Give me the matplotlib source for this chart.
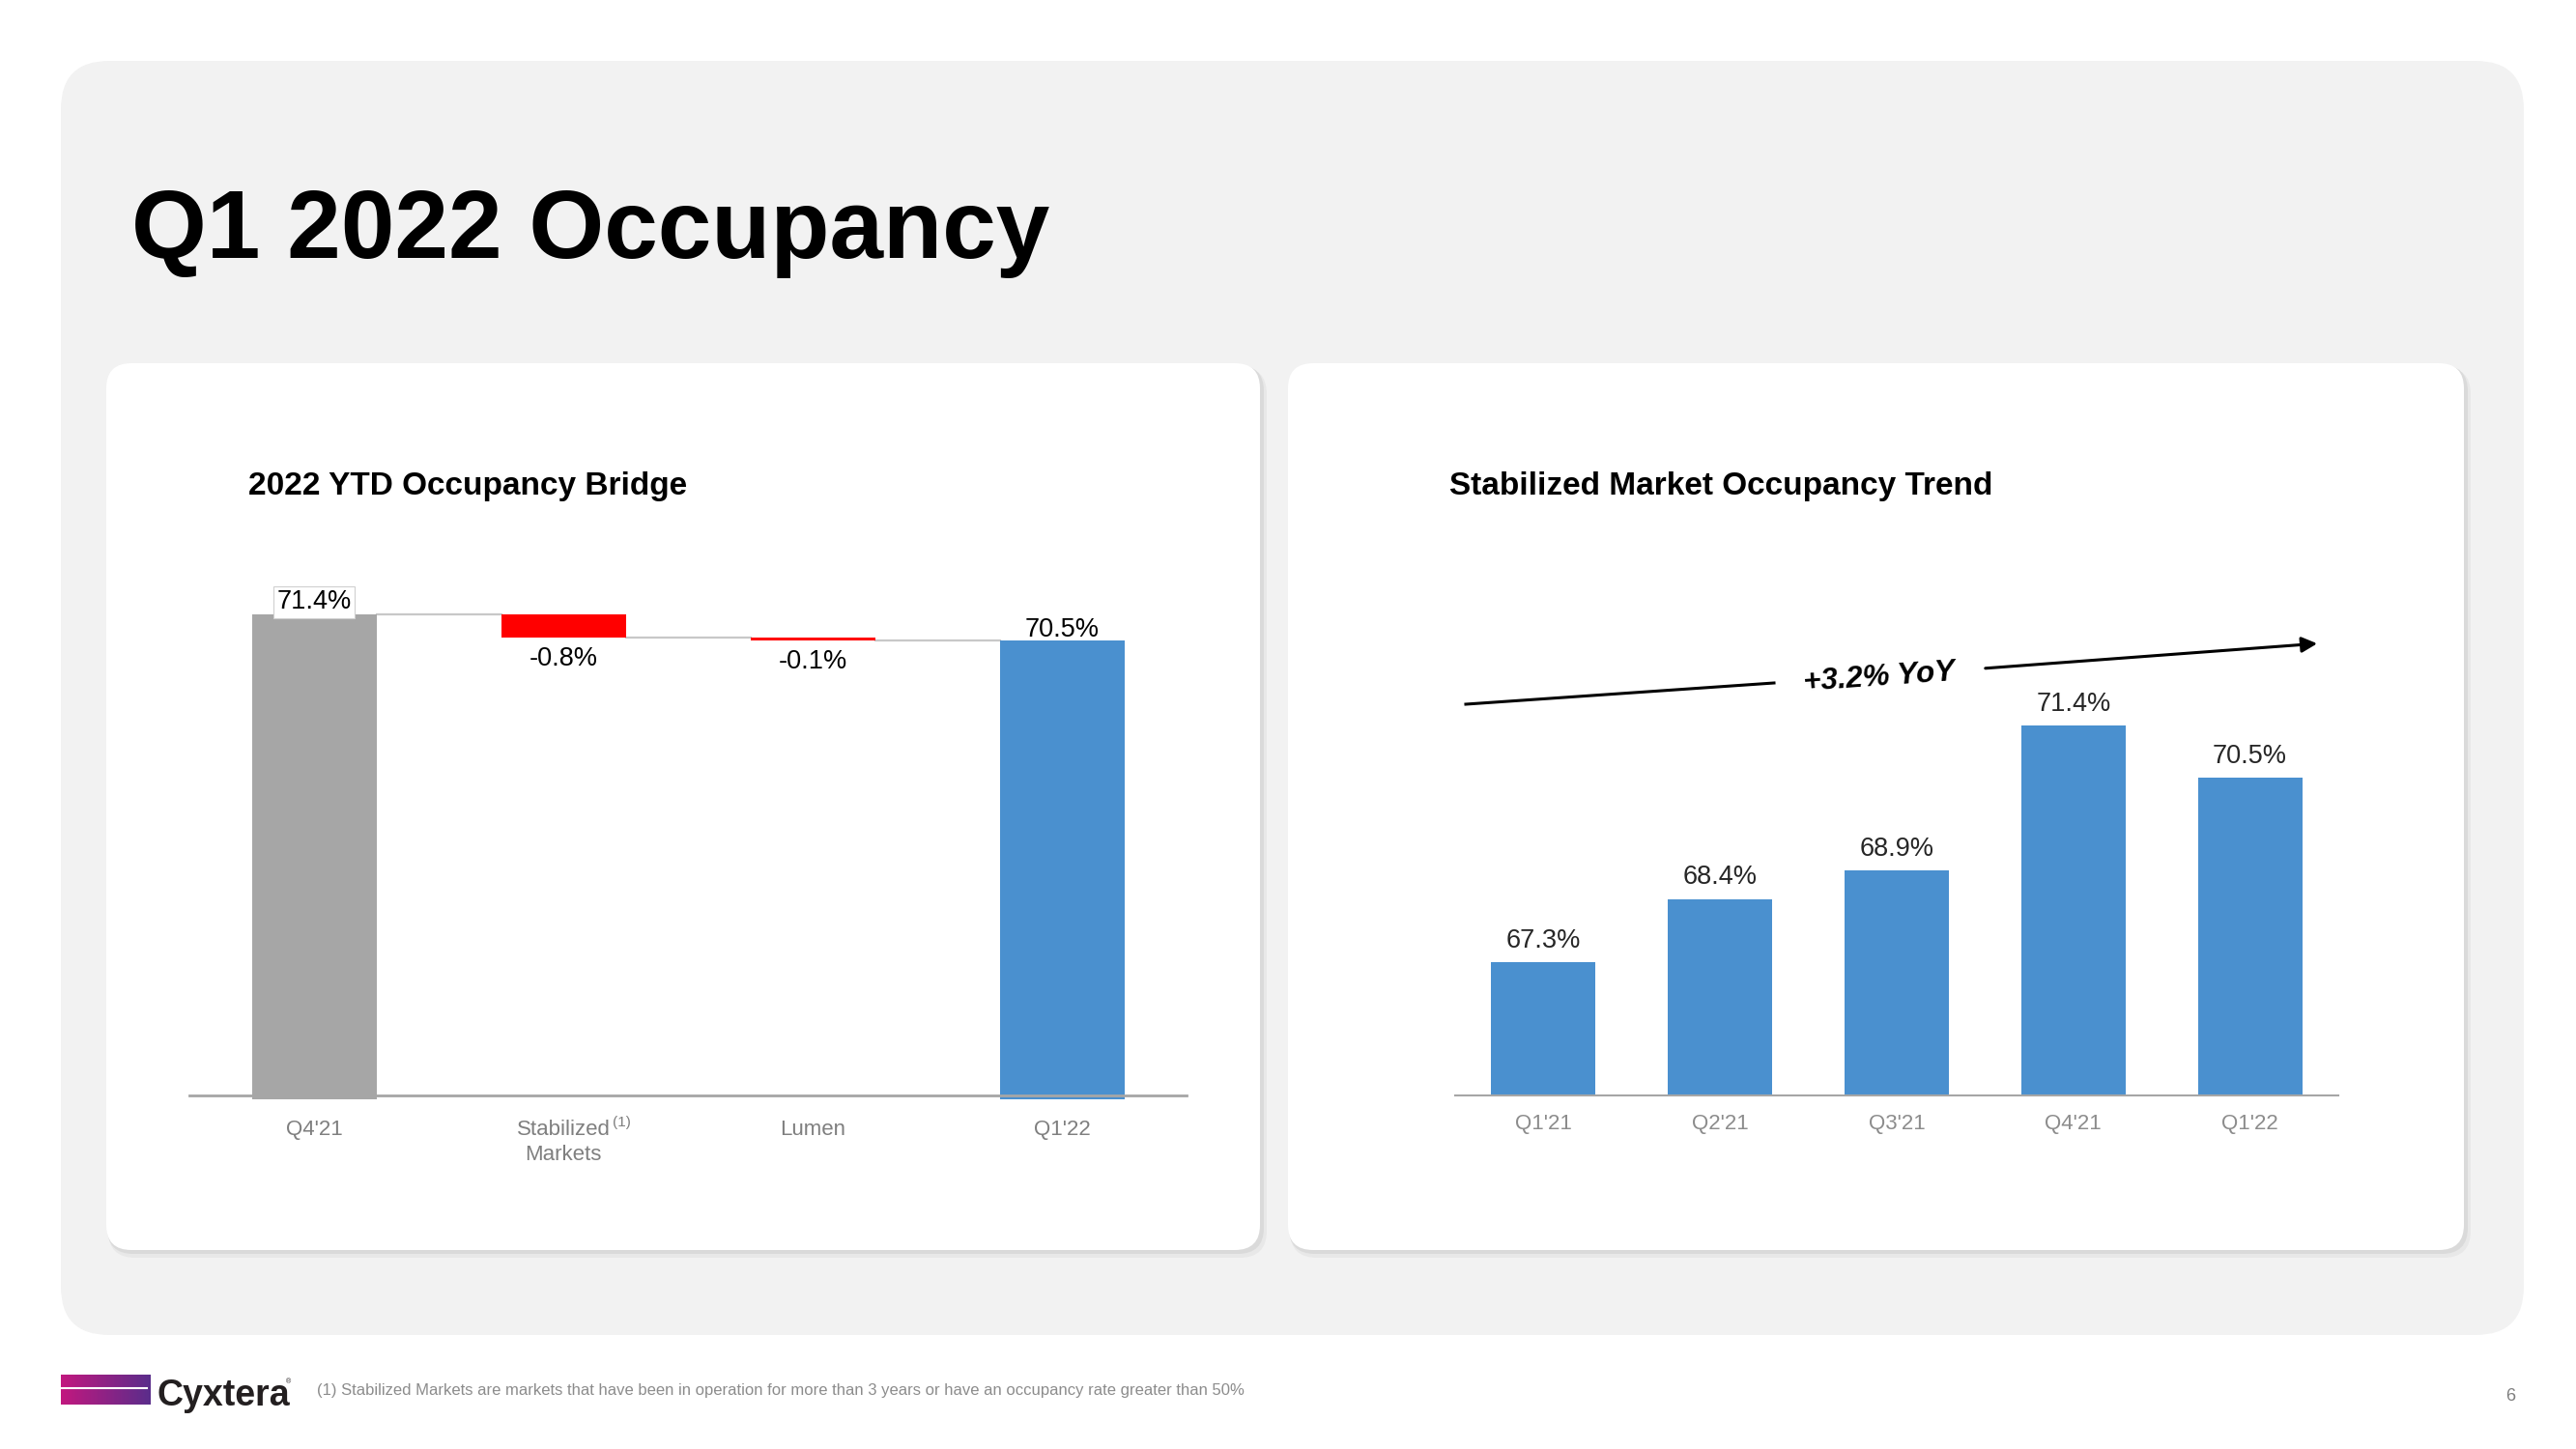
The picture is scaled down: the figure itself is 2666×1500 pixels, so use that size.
import numpy as np
import matplotlib
matplotlib.use("Agg")
import matplotlib.pyplot as plt
from matplotlib.patches import FancyBboxPatch, FancyArrowPatch
from matplotlib.lines import Line2D
from matplotlib.colors import LinearSegmentedColormap

# chart data
bridge_cats = ["Q4'21", "Stabilized\nMarkets", "Lumen", "Q1'22"]
bridge_vals = [71.4, -0.8, -0.1, 70.5]
trend_cats = ["Q1'21", "Q2'21", "Q3'21", "Q4'21", "Q1'22"]
trend_vals = [67.3, 68.4, 68.9, 71.4, 70.5]
footnote = ("(1) Stabilized Markets are markets that have been in operation for more "
            "than 3 years or have an occupancy rate greater than 50%")

BLUE = '#4a90cf'
GREY_BAR = '#a6a6a6'
RED = '#ff0000'

W, H = 2666, 1500
plt.rcParams['font.family'] = ['Liberation Sans', 'DejaVu Sans']

fig = plt.figure(figsize=(W / 100, H / 100), dpi=100)
fig.patch.set_facecolor('white')


def fx(px):
    return px / W


def fy(py):
    return 1 - py / H


def rbox(x0, y0, x1, y1, r, color, z):
    # pixel box (origin top-left) drawn in inches so corners stay round
    p = FancyBboxPatch((x0 / 100, (H - y1) / 100), (x1 - x0) / 100, (y1 - y0) / 100,
                       boxstyle=f"round,pad=0,rounding_size={r / 100}",
                       transform=fig.dpi_scale_trans, facecolor=color,
                       edgecolor='none', zorder=z)
    fig.add_artist(p)


# background panel and cards
rbox(63, 63, 2612, 1382, 50, '#f2f2f2', -10)
for x0, x1 in [(110, 1304), (1333, 2550)]:
    rbox(x0 + 2, 376 + 4, x1 + 7, 1294 + 8, 28, '#e8e8e8', -9)
    rbox(x0 + 1, 376 + 2, x1 + 4, 1294 + 4, 27, '#dadada', -9)
    rbox(x0, 376, x1, 1294, 26, 'white', -8)

fig.text(fx(136), fy(267), "Q1 2022 Occupancy", fontsize=72, fontweight='bold',
         va='baseline', color='black')
fig.text(fx(257), fy(512), "2022 YTD Occupancy Bridge", fontsize=24,
         fontweight='bold', va='baseline')
fig.text(fx(1500), fy(512), "Stabilized Market Occupancy Trend", fontsize=24,
         fontweight='bold', va='baseline')

# ---- left: waterfall bridge ----
ax1 = fig.add_axes([fx(196), fy(1134), fx(1228) - fx(196), (1134 - 540) / H])
y0 = 54.66
ax1.set_ylim(y0, y0 + 594 / 29.75)
ax1.set_xlim(-0.5, 3.5)
ax1.set_facecolor('none')

xb = np.arange(len(bridge_cats))
bottoms, heights, colors, levels = [], [], [], []
running = bridge_vals[0]
for i, v in enumerate(bridge_vals):
    if i == 0 or i == len(bridge_vals) - 1:
        bottoms.append(y0 - 0.12)
        heights.append(v - (y0 - 0.12))
        colors.append(GREY_BAR if i == 0 else BLUE)
        running = v
    else:
        new = running + v
        bottoms.append(new)
        heights.append(-v)
        colors.append(RED)
        running = new
    levels.append(running)

ax1.bar(xb, heights, bottom=bottoms, width=0.5, color=colors, clip_on=False, zorder=2)
for i in range(len(xb) - 1):
    ax1.plot([xb[i] + 0.25, xb[i + 1] - 0.25], [levels[i], levels[i]],
             color='#c8c8c8', lw=1.6, zorder=1, clip_on=False)

for i, v in enumerate(bridge_vals):
    if i == 0:
        ax1.annotate(f"{v}%", (xb[i], v), xytext=(0, 4), textcoords='offset points',
                     ha='center', va='baseline', fontsize=19.5,
                     bbox=dict(boxstyle='square,pad=0.12', fc='white', ec='#d0d0d0', lw=0.8))
    elif i == len(bridge_vals) - 1:
        ax1.annotate(f"{v}%", (xb[i], v), xytext=(0, 3), textcoords='offset points',
                     ha='center', va='baseline', fontsize=19.5)
    else:
        ax1.annotate(f"{v}%", (xb[i], bottoms[i]), xytext=(0, -21), textcoords='offset points',
                     ha='center', va='baseline', fontsize=19.5)

ax1.set_xticks(xb, bridge_cats, fontsize=16, color='#7f7f7f', linespacing=1.3)
ax1.tick_params(axis='x', length=0, pad=18)
ax1.set_yticks([])
for s in ['top', 'right', 'left']:
    ax1.spines[s].set_visible(False)
ax1.spines['bottom'].set_color('#a6a6a6')
ax1.spines['bottom'].set_linewidth(2)
ax1.spines['bottom'].set_zorder(3)
ax1.annotate("(1)", xy=(1, 0), xycoords=('data', 'axes fraction'), xytext=(37, -20),
             textcoords='offset points', ha='left', va='center', fontsize=11, color='#7f7f7f')

# ---- right: stabilized trend ----
ax2 = fig.add_axes([fx(1506), fy(1134), fx(2420) - fx(1506), (1134 - 640) / H])
base = 65
ax2.set_ylim(base, base + 494 / 59.8)
ax2.set_xlim(-0.5, 4.5)
ax2.set_facecolor('none')
xt = np.arange(len(trend_cats))
ax2.bar(xt, [v - base for v in trend_vals], bottom=base, width=0.59, color=BLUE, zorder=2)
for i, v in enumerate(trend_vals):
    ax2.annotate(f"{v}%", (xt[i], v), xytext=(0, 11), textcoords='offset points',
                 ha='center', va='baseline', fontsize=19.5, color='#262626')
ax2.set_xticks(xt, trend_cats, fontsize=16, color='#8c8c8c')
ax2.tick_params(axis='x', length=0, pad=14)
ax2.set_yticks([])
for s in ['top', 'right', 'left']:
    ax2.spines[s].set_visible(False)
ax2.spines['bottom'].set_color('#a6a6a6')
ax2.spines['bottom'].set_linewidth(1.5)

# YoY arrow
yoy = f"+{trend_vals[-1] - trend_vals[0]:.1f}% YoY"
fig.add_artist(Line2D([fx(1517), fx(1836)], [fy(729), fy(707)], color='black', lw=2.2))
fig.add_artist(FancyArrowPatch((fx(2052), fy(692)), (fx(2401), fy(666)),
                               transform=fig.transFigure, arrowstyle='-|>',
                               mutation_scale=24, lw=2.2, color='black'))
fig.text(fx(1945), fy(702), yoy, rotation=4, rotation_mode='anchor', ha='center',
         va='center', fontsize=22.5, fontweight='bold', fontstyle='italic')

# ---- footer ----
lax = fig.add_axes([fx(63), fy(1454), fx(156) - fx(63), 31 / H])
grad = np.linspace(0, 1, 256).reshape(1, -1)
lax.imshow(grad, aspect='auto', extent=[0, 1, 0, 1],
           cmap=LinearSegmentedColormap.from_list('cyx', ['#c2187f', '#5a2d8b']))
lax.axhline(0.55, xmin=0, xmax=0.96, color='white', lw=1.5)
lax.axis('off')
fig.text(fx(163), fy(1455), "Cyxtera", fontsize=27, fontweight='bold', va='baseline',
         color='#231f20')
fig.text(fx(296), fy(1432), "\u00ae", fontsize=5, va='baseline', color='#231f20')
fig.text(fx(328), fy(1444), footnote, fontsize=12, color='#8c8c8c', va='baseline')
fig.text(fx(2598), fy(1445), "6", fontsize=13, color='#7f7f7f', ha='center', va='center')

fig.savefig('out.png', dpi=100)
